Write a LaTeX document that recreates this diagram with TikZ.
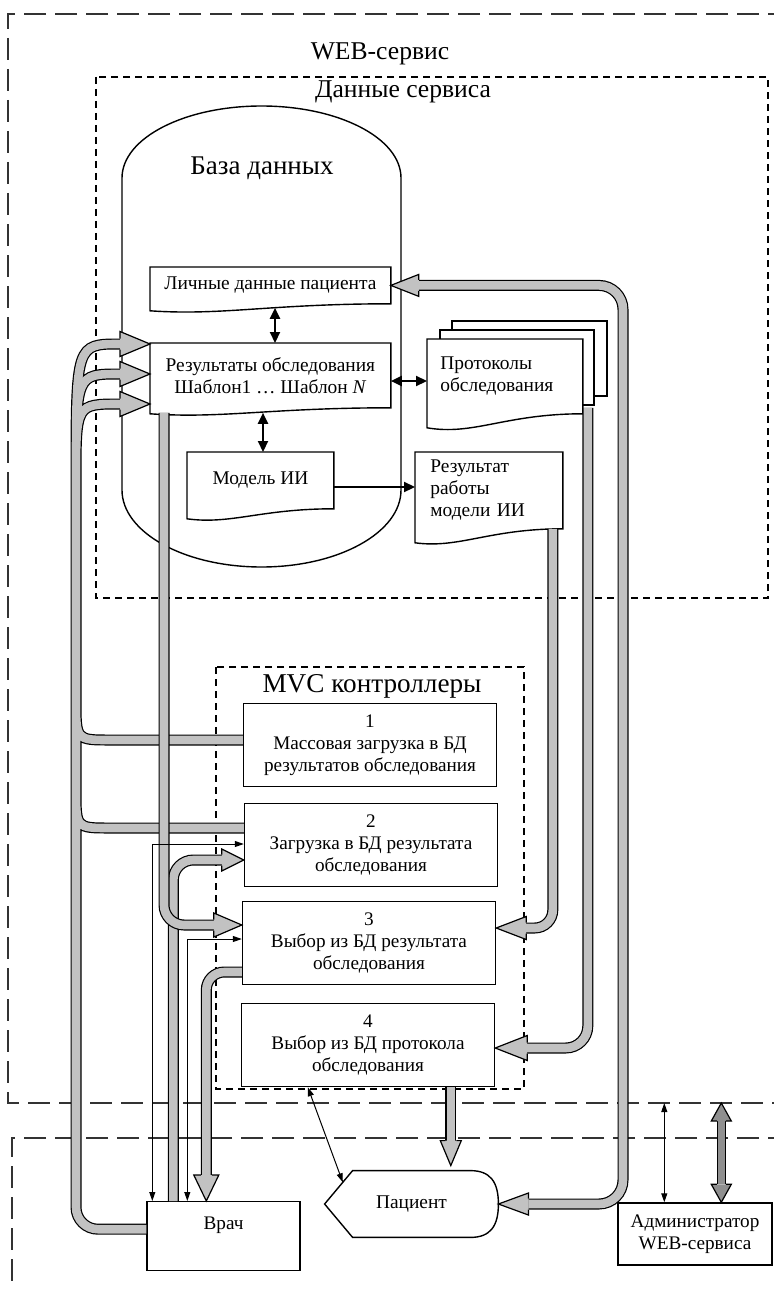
\documentclass[tikz,border=0pt]{standalone}
\usepackage{fontspec}
\setmainfont{Liberation Serif}
\usetikzlibrary{arrows.meta,calc,backgrounds}

\definecolor{dotfill}{gray}{0.76}
\definecolor{dotdark}{gray}{0.56}

\tikzset{
  frame/.style={line width=0.9pt,draw=black!80,dash pattern=on 11pt off 4.5pt},
  subframe/.style={line width=0.6pt,dash pattern=on 3.5pt off 2.5pt},
  title/.style={inner sep=0pt,font=\fontsize{12.8}{15}\selectfont},
  box/.style={draw,line width=0.7pt,fill=white,inner sep=0pt,align=center,
    font=\fontsize{9.6}{10.9}\selectfont},
  ctrl/.style={box,minimum width=126.5pt,minimum height=41.5pt},
  docbox/.style={inner sep=0pt,anchor=north west,align=center,
    font=\fontsize{9.7}{11}\selectfont},
  docline/.style={line width=0.7pt,fill=white},
  link/.style={line width=0.5pt,>={Triangle[length=4.5pt,width=3pt]},<->},
  boldlink/.style={line width=1.1pt,>={Triangle[length=5.5pt,width=5pt]},<->},
  boldarrow/.style={line width=1.1pt,>={Triangle[length=5.5pt,width=5pt]},->},
  chanout/.style={line width=5.5pt},
  chanin/.style={line width=4.3pt,draw=dotfill},
  headfill/.store in=\headfill, headfill=dotfill,
  pics/whead/.style n args={3}{code={
    \fill[fill=\headfill] (0,0) -- (-#1,#2/2) -- (-#1,-#2/2) -- cycle;
    \draw[line width=0.6pt] (-#1,#3) -- (-#1,#2/2) -- (0,0) -- (-#1,-#2/2) -- (-#1,-#3);}},
}

\newcommand{\chan}[1]{\draw[chanout] #1; \draw[chanin] #1;}
\newcommand{\docframe}[3]{%
  \draw[docline] ($(#1.south west)+(0,#2)$) -- (#1.north west) -- (#1.north east) -- (#1.south east)
    .. controls ($(#1.south west)!0.5!(#1.south east)$) and ($(#1.south west)!0.3!(#1.south east)+(0,#2+#3)$)
    .. ($(#1.south west)+(0,#2)$) -- cycle;}

\begin{document}
\begin{tikzpicture}[x=0.5pt,y=-0.5pt]
\useasboundingbox (0,0) rectangle (774,1289);

\draw[frame] (790,14) -- (8,14) -- (8,1103) -- (790,1103);
\draw[frame] (790,1138) -- (12,1138) -- (12,1300);
\draw[subframe] (96,77) rectangle (768,598);
\draw[subframe] (216,667) rectangle (524,1089);
\coordinate (webS) at (0,1103);

\node[title] (webt) at (380,54) {WEB-сервис};
\node[title] (datat) at (403,92) {Данные сервиса};
\node[title,font=\fontsize{13.6}{16}\selectfont] (mvct) at (372,686) {MVC контроллеры};

\draw[line width=0.7pt] (122,490) -- (122,178) .. controls (122,138) and (184.5,106) .. (261.5,106)
  .. controls (338.5,106) and (401,138) .. (401,178) -- (401,490)
  .. controls (401,532.5) and (338.5,567) .. (261.5,567)
  .. controls (184.5,567) and (122,532.5) .. (122,490) -- cycle;
\node[title,font=\fontsize{13.5}{16}\selectfont] (dbt) at (262,168) {База данных};

\node[docbox,minimum width=120pt,minimum height=18pt] (pdata) at (150,267) {Личные данные пациента};
\node[docbox,minimum width=120pt,minimum height=32pt] (results) at (150,343)
  {Результаты обследования\\Шаблон1 … Шаблон \textit{N}};
\node[docbox,minimum width=73pt,minimum height=28pt] (aimodel) at (187,452) {Модель ИИ};
\node[docbox,align=left,text width=58.5pt,inner xsep=7.5pt,minimum height=38pt] (airesult) at (415,452)
  {Результат\\работы\\модели ИИ};
\node[docbox,align=left,text width=64.5pt,inner xsep=6.5pt,minimum height=37pt] (protocols) at (427,339)
  {Протоколы\\обследования};

\begin{scope}[on background layer]
  \draw[docline] ($(protocols.north west)+(25,-18)$) rectangle ($(protocols.north east)+(24,57)$);
  \draw[docline] ($(protocols.north west)+(13,-9)$) rectangle ($(protocols.north east)+(11,66)$);
  \docframe{protocols}{14}{8}
  \docframe{pdata}{7}{5}
  \docframe{results}{6}{5}
  \docframe{aimodel}{10}{6}
  \docframe{airesult}{14}{6}
\end{scope}

\node[ctrl] (c1) at (370,745) {1\\Массовая загрузка в БД\\результатов обследования};
\node[ctrl] (c2) at (371,845) {2\\Загрузка в БД результата\\обследования};
\node[ctrl] (c3) at (369,943) {3\\Выбор из БД результата\\обследования};
\node[ctrl] (c4) at (368,1045) {4\\Выбор из БД протокола\\обследования};

\node[box,anchor=north,minimum width=76.5pt,inner ysep=3pt,text height=10.75pt,text depth=17.75pt]
  (vrach) at (223.5,1201) {Врач};
\node[inner sep=0pt,minimum width=86.5pt,minimum height=33pt,font=\fontsize{9.7}{11}\selectfont]
  (patient) at (411.5,1204) {Пациент};
\draw[line width=0.7pt] (patient.west) -- ($(patient.north west)+(28,0)$) -- ($(patient.north east)+(-28,0)$)
  .. controls ($(patient.north east)+(-8,0)$) and ($(patient.east)+(0,-22)$) .. (patient.east)
  .. controls ($(patient.east)+(0,22)$) and ($(patient.south east)+(-8,0)$) .. ($(patient.south east)+(-28,0)$)
  -- ($(patient.south west)+(28,0)$) -- cycle;
\node[box,minimum width=77pt,minimum height=31pt] (admin) at (695,1234) {Администратор\\WEB-сервиса};

\draw[boldlink] ($(pdata.south -| 275,0)+(0,4)$) -- (results.north -| 275,0);
\draw[boldlink] (results.east |- 0,381) -- (protocols.west |- 0,381);
\draw[boldlink] ($(results.south -| 263,0)+(0,5)$) -- (aimodel.north -| 263,0);
\draw[boldarrow] (aimodel.east |- 0,487) -- (airesult.west |- 0,487);

\chan{($(vrach.west)+(0,-7)$) [rounded corners=11pt] -| (76,480) [sharp corners]
  (76,480) .. controls (76,344) .. (120,344)
  (76,480) .. controls (76,374) .. (120,374)
  (76,480) .. controls (76,404) .. (120,404)
  (76,700) .. controls (76,740) .. (110,740) -- (c1.west |- 0,740)
  (76,790) .. controls (76,828) .. (110,828) -- (c2.west |- 0,828)}
\foreach \y in {344,374,404}
  \pic at (results.west |- 0,\y) {whead={30}{25}{5.5}};

\chan{($(vrach.north west)+(27,0)$) [rounded corners=10pt] |- ($(c2.west)+(-22,15)$)}
\pic at ($(c2.west)+(0,15)$) {whead={22}{22}{5.5}};
\chan{($(results.south west)+(14,5)$) [rounded corners=10pt] |- ($(c3.west)+(-28,-18)$)}
\pic at ($(c3.west)+(0,-18)$) {whead={28}{24}{5.5}};
\chan{($(c3.west)+(0,29)$) [rounded corners=9pt] -| ($(vrach.north west)+(60,-26)$)}
\pic[rotate=-90] at ($(vrach.north west)+(60,0)$) {whead={26}{25}{5.5}};

\chan{($(patient.east)+(30,0)$) [rounded corners=12pt] -| (pdata.east -| 623,0) [sharp corners]
  -- ($(pdata.east)+(28,0)$)}
\pic[rotate=180] at (pdata.east) {whead={28}{22}{5.5}};
\pic[rotate=180] at (patient.east) {whead={30}{22}{5.5}};
\chan{($(protocols.south east)+(5,-6)$) [rounded corners=11pt] |- ($(c4.east)+(32,3)$)}
\pic[rotate=180] at ($(c4.east)+(0,3)$) {whead={32}{25}{5.5}};
\chan{($(airesult.south east)+(-10,0)$) [rounded corners=9pt] |- ($(c3.east)+(30,-15)$)}
\pic[rotate=180] at ($(c3.east)+(0,-15)$) {whead={30}{23}{5.5}};

\coordinate (pa) at ($(c4.south west)+(210,0)$);
\chan{(pa) -- ($(pa |- patient.north)+(0,-30)$)}
\pic[rotate=-90] at ($(pa |- patient.north)+(0,-5)$) {whead={25}{21}{5.5}};

\coordinate (adw) at ($(admin.north west)+(104,0)$);
\draw[chanout,line width=4.5pt] ($(adw |- webS)+(0,18)$) -- ($(adw)+(0,-18)$);
\draw[chanin,line width=3.4pt,draw=dotdark] ($(adw |- webS)+(0,18)$) -- ($(adw)+(0,-18)$);
\pic[rotate=90,headfill=dotdark] at (adw |- webS) {whead={18}{20}{4.5}};
\pic[rotate=-90,headfill=dotdark] at (adw) {whead={18}{20}{4.5}};

\draw[link] ($(c2.west)+(0,-1)$) -| ($(vrach.north west)+(6,0)$);
\draw[link] ($(c3.west)+(0,-4)$) -| ($(vrach.north west)+(41,0)$);
\coordinate (patnw) at ($(patient.north west)+(28,0)$);
\draw[link] ($(c4.south west)+(67,0)$) -- ($(patient.west)!0.65!(patnw)$);
\coordinate (adn) at ($(admin.north west)+(47,0)$);
\draw[link] (adn |- webS) -- (adn);
\end{tikzpicture}
\end{document}
